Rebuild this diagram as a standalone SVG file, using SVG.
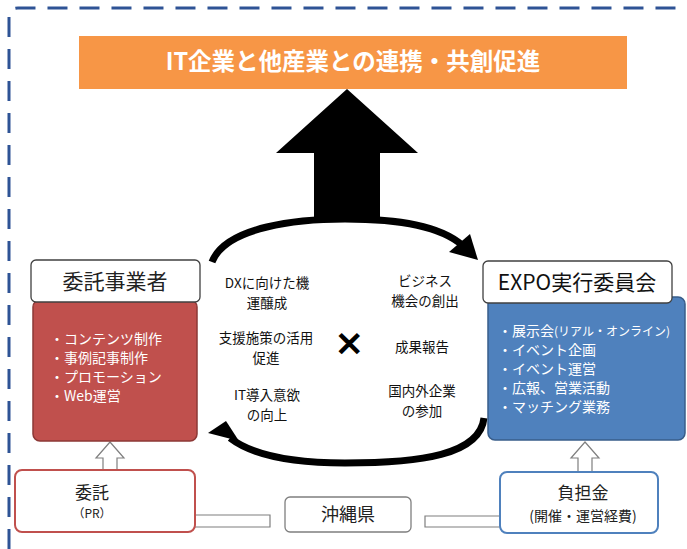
<svg xmlns="http://www.w3.org/2000/svg" width="687" height="549" viewBox="0 0 687 549">
<style>
text{font-family:"Noto Sans CJK JP","Noto Sans",sans-serif;}
.hdr{fill:#fff;stroke:#404040;stroke-width:1.3;}
.w{fill:#fff;font-size:14px;}
.k{fill:#111;font-size:13.5px;text-anchor:middle;}
.arc{fill:none;stroke:#000;stroke-width:7;}
.hol{fill:#fff;stroke:#7f7f7f;stroke-width:1.2;}
</style>
<rect width="687" height="549" fill="#fff"/>
<path d="M 9 549 V 17 Q 9 8 18 8 H 690" fill="none" stroke="#2E5395" stroke-width="3" stroke-dasharray="20 12"/>

<g id="title">
<rect x="79" y="36" width="548" height="53" fill="#F79646"/>
<text x="353" y="70" font-size="23.5" font-weight="bold" fill="#fff" text-anchor="middle">IT企業と他産業との連携・共創促進</text>
</g>

<g id="connectors">
<polygon points="347,89 418,153 380,153 380,217 314,217 314,153 276,153" fill="#000"/>
<path class="arc" d="M 212 262 C 226 226 300 219 345 219 C 400 219 440 226 462 245"/>
<polygon points="478,260 449,252 470,234" fill="#000"/>
<path class="arc" d="M 484 418 C 480 455 420 463 345 463 C 290 463 252 455 230 438"/>
<polygon points="208,433 226,421 239,441" fill="#000"/>
<polygon class="hol" points="110,442 124,458 117,458 117,470 103,470 103,458 96,458"/>
<polygon class="hol" points="585,442 599,458 592,458 592,472 578,472 578,458 571,458"/>
<path class="hol" d="M 195 515 H 270 V 527 H 195"/>
<path class="hol" d="M 500 516 H 425 V 527 H 500"/>
</g>

<g id="contractor">
<rect x="33" y="300" width="164" height="141" rx="7" fill="#C0504D" stroke="#8C3836" stroke-width="1.5"/>
<rect class="hdr" x="31" y="260" width="169" height="42" rx="5"/>
<text x="115" y="289" font-size="21" fill="#222" text-anchor="middle">委託事業者</text>
<text class="w"><tspan x="50" y="344">・コンテンツ制作</tspan><tspan x="50" y="363">・事例記事制作</tspan><tspan x="50" y="382">・プロモーション</tspan><tspan x="50" y="401">・Web運営</tspan></text>
</g>

<g id="expo">
<rect x="488" y="297" width="197" height="143" rx="7" fill="#4F81BD" stroke="#385D8A" stroke-width="1.5"/>
<rect class="hdr" x="483" y="261" width="189" height="42" rx="5"/>
<text x="577" y="290" font-size="21" fill="#111" text-anchor="middle">EXPO実行委員会</text>
<text class="w" font-size="13.5"><tspan x="498" y="336">・展示会<tspan font-size="12">(リアル・オンライン)</tspan></tspan><tspan x="498" y="355">・イベント企画</tspan><tspan x="498" y="374">・イベント運営</tspan><tspan x="498" y="393">・広報、営業活動</tspan><tspan x="498" y="412">・マッチング業務</tspan></text>
</g>

<g id="center">
<text class="k"><tspan x="267" y="288">DXに向けた機</tspan><tspan x="267" y="308">運醸成</tspan></text>
<text class="k"><tspan x="425" y="286">ビジネス</tspan><tspan x="425" y="306">機会の創出</tspan></text>
<text class="k"><tspan x="266" y="343">支援施策の活用</tspan><tspan x="266" y="363">促進</tspan></text>
<text x="349" y="356" font-size="34" font-weight="bold" fill="#000" text-anchor="middle" font-family="DejaVu Sans,sans-serif">✕</text>
<text class="k" x="422" y="352">成果報告</text>
<text class="k"><tspan x="267" y="400">IT導入意欲</tspan><tspan x="267" y="420">の向上</tspan></text>
<text class="k"><tspan x="422" y="396">国内外企業</tspan><tspan x="422" y="416">の参加</tspan></text>
</g>

<g id="itaku">
<rect x="15" y="470" width="180" height="62" rx="7" fill="#fff" stroke="#C0504D" stroke-width="2"/>
<text x="92" y="499" font-size="17" fill="#222" text-anchor="middle">委託</text>
<text x="92" y="518" font-size="12" fill="#222" text-anchor="middle">（PR）</text>
</g>

<g id="okinawa">
<rect x="285" y="497" width="126" height="35" rx="5" fill="#fff" stroke="#7f7f7f" stroke-width="1.3"/>
<text x="348" y="521" font-size="18" fill="#222" text-anchor="middle">沖縄県</text>
</g>

<g id="futan">
<rect x="500" y="472" width="158" height="61" rx="7" fill="#fff" stroke="#4F81BD" stroke-width="2"/>
<text x="583" y="499" font-size="17" fill="#222" text-anchor="middle">負担金</text>
<text x="583" y="521" font-size="14" fill="#222" text-anchor="middle">(開催・運営経費)</text>
</g>
</svg>
